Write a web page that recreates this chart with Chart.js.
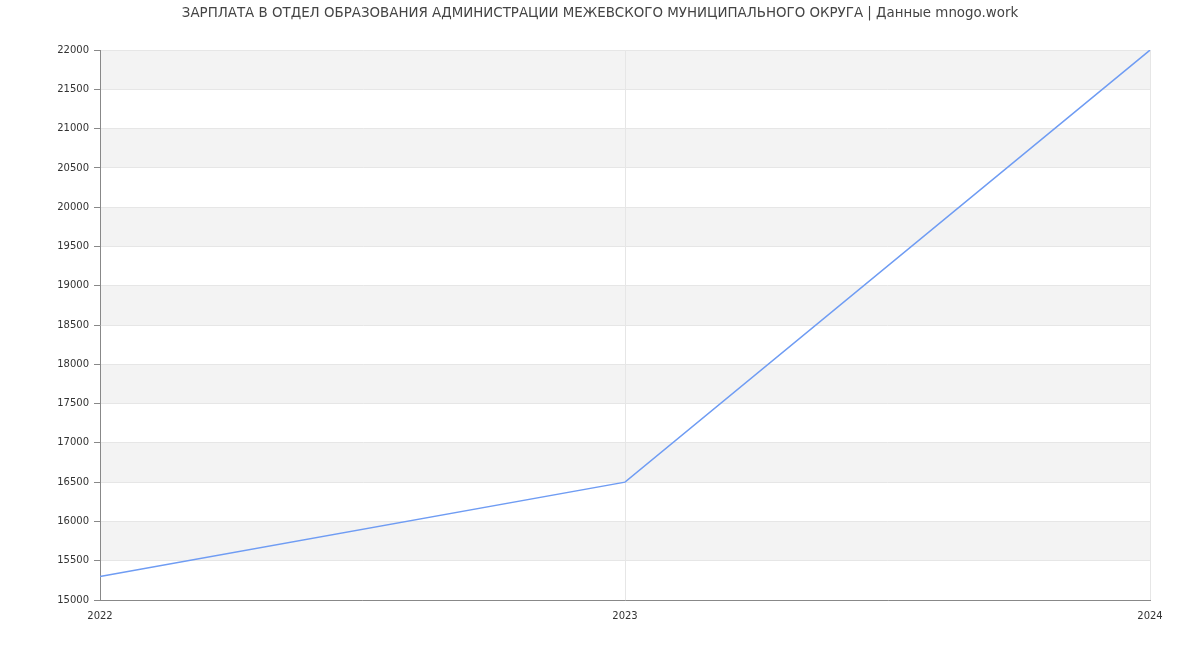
<!DOCTYPE html>
<html>
<head>
<meta charset="utf-8">
<script src="https://cdn.jsdelivr.net/npm/chart.js@4.4.1/dist/chart.umd.min.js"></script>
<style>
html,body{margin:0;padding:0;background:#fff;}
#wrap{width:1200px;height:650px;position:relative;}
</style>
</head>
<body>
<div id="wrap"><canvas id="c" width="1200" height="650"></canvas></div>
<script>
const titleText = 'ЗАРПЛАТА В ОТДЕЛ ОБРАЗОВАНИЯ АДМИНИСТРАЦИИ МЕЖЕВСКОГО МУНИЦИПАЛЬНОГО ОКРУГА | Данные mnogo.work';
const years = ['2022', '2023', '2024'];
const salaries = [15300, 16500, 22000];
const yMin = 15000;
const yMax = 22000;
const yStep = 500;

const bandPlugin = {
  id: 'bands',
  beforeDraw(chart) {
    const {ctx, chartArea, scales} = chart;
    const y = scales.y;
    const ticks = y.ticks.map(t => t.value);
    ctx.save();
    ctx.fillStyle = '#f3f3f3';
    for (let i = 1; i < ticks.length - 1; i += 2) {
      const top = y.getPixelForValue(ticks[i + 1]);
      const bot = y.getPixelForValue(ticks[i]);
      ctx.fillRect(chartArea.left, top, chartArea.right - chartArea.left, bot - top);
    }
    ctx.restore();
  }
};

new Chart(document.getElementById('c'), {
  type: 'line',
  data: {
    labels: years,
    datasets: [{
      data: salaries,
      borderColor: '#6f9cf3',
      borderWidth: 1.5,
      pointRadius: 0,
      tension: 0,
      fill: false
    }]
  },
  options: {
    responsive: false,
    animation: false,
    devicePixelRatio: 1,
    layout: {padding: {left: 50, right: 50, top: 0, bottom: 0}},
    plugins: {
      legend: {display: false},
      tooltip: {enabled: false},
      title: {
        display: true,
        text: titleText,
        color: '#444',
        font: {family: 'DejaVu Sans', size: 13.4, weight: 'normal'},
        padding: {top: 5, bottom: 29}
      }
    },
    scales: {
      x: {
        type: 'category',
        offset: false,
        grid: {color: '#e6e6e6', drawTicks: false},
        border: {color: '#888', width: 1},
        ticks: {color: '#333', font: {family: 'DejaVu Sans', size: 10}, padding: 10, maxRotation: 0},
        afterFit(s) { s.height = 50; }
      },
      y: {
        min: yMin,
        max: yMax,
        grid: {color: '#e6e6e6', tickLength: 6, tickColor: '#888'},
        border: {color: '#888', width: 1},
        ticks: {stepSize: yStep, color: '#333', font: {family: 'DejaVu Sans', size: 10}, padding: 5,
          callback: v => String(v)},
        afterFit(s) { s.width = 50; }
      }
    }
  },
  plugins: [bandPlugin]
});
</script>
</body>
</html>
